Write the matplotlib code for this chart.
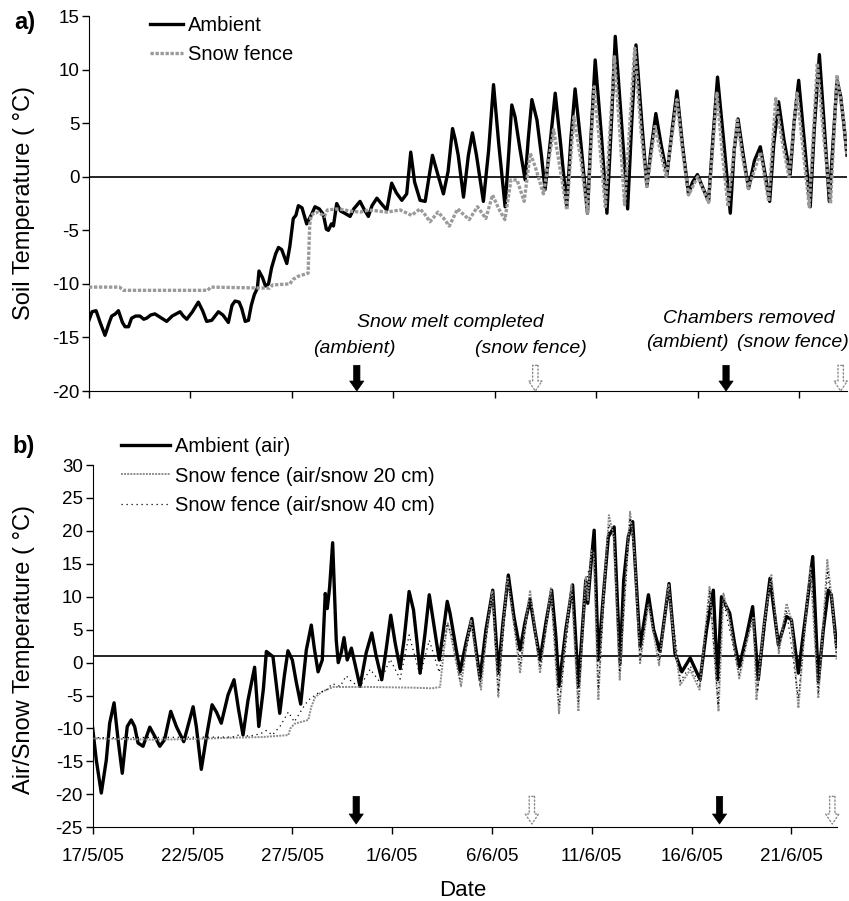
import numpy as np
import matplotlib
matplotlib.use("Agg")
import matplotlib.pyplot as plt
from matplotlib.lines import Line2D

plt.rcParams['font.family'] = ['Liberation Sans', 'DejaVu Sans']
plt.rcParams['axes.unicode_minus'] = False
plt.rcParams['lines.solid_joinstyle'] = 'round'
plt.rcParams['lines.dash_joinstyle'] = 'round'

# time in days since 17/5/05 00:00, temperature in deg C
soil_ambient = np.array([
    (0.00, -13.4), (0.15, -12.6), (0.35, -12.5), (0.55, -13.6), (0.79, -14.8),
    (1.00, -13.6), (1.12, -13.0), (1.30, -12.8), (1.45, -12.5), (1.65, -13.6),
    (1.78, -14.0), (1.95, -14.0), (2.10, -13.2), (2.30, -13.0), (2.51, -13.0),
    (2.70, -13.3), (2.84, -13.2), (3.05, -12.9), (3.25, -12.8), (3.50, -13.1),
    (3.83, -13.5), (4.10, -13.0), (4.49, -12.6), (4.65, -13.0), (4.82, -13.3),
    (5.10, -12.6), (5.39, -11.7), (5.60, -12.5), (5.80, -13.5), (6.05, -13.4),
    (6.38, -12.6), (6.60, -12.9), (6.87, -13.6), (7.05, -12.0), (7.20, -11.6),
    (7.40, -11.7), (7.53, -12.3), (7.70, -13.5), (7.86, -13.4), (8.00, -12.0),
    (8.15, -11.0), (8.30, -10.4), (8.38, -8.8), (8.55, -9.4), (8.70, -10.2),
    (8.85, -10.0), (9.00, -8.5), (9.20, -7.2), (9.34, -6.6), (9.50, -6.8),
    (9.75, -8.1), (9.90, -6.5), (10.07, -3.9), (10.20, -3.6), (10.32, -2.7),
    (10.50, -2.9), (10.73, -4.4), (10.95, -3.6), (11.14, -2.8), (11.35, -3.0),
    (11.55, -3.5), (11.70, -4.9), (11.80, -5.0), (11.95, -4.4), (12.05, -4.6),
    (12.21, -2.5), (12.40, -3.2), (12.60, -3.4), (12.87, -3.7), (13.05, -3.0),
    (13.36, -2.3), (13.55, -3.0), (13.77, -3.7), (13.95, -2.7), (14.19, -2.0),
    (14.45, -2.6), (14.68, -3.1), (14.92, -0.6), (15.15, -1.5), (15.42, -2.2),
    (15.66, -1.6), (15.86, 2.3), (16.05, -0.5), (16.32, -2.2), (16.57, -2.3),
    (16.93, 2.0), (17.15, 0.5), (17.47, -1.6), (17.70, 0.5), (17.92, 4.5),
    (18.05, 3.5), (18.20, 2.0), (18.46, -1.9), (18.70, 2.0), (18.90, 4.1),
    (19.10, 2.0), (19.44, -2.3), (19.70, 2.5), (19.94, 8.6), (20.20, 3.0),
    (20.51, -2.8), (20.70, 2.5), (20.84, 6.7), (21.00, 5.6), (21.25, 2.5),
    (21.50, -0.3), (21.65, 3.5), (21.83, 7.2), (22.08, 5.3), (22.30, 2.0),
    (22.48, -1.2), (22.75, 3.5), (22.98, 7.8), (23.25, 3.0), (23.55, -2.8),
    (23.75, 3.5), (23.96, 8.2), (24.25, 3.0), (24.57, -3.4), (24.75, 4.0),
    (24.95, 10.9), (25.25, 4.0), (25.53, -3.4), (25.75, 5.0), (25.94, 13.1),
    (26.25, 5.0), (26.55, -3.0), (26.75, 5.0), (26.96, 12.3), (27.25, 5.0),
    (27.50, -0.9), (27.70, 2.5), (27.94, 5.9), (28.20, 3.0), (28.49, 0.2),
    (28.75, 4.5), (28.98, 8.0), (29.25, 3.0), (29.55, -1.6), (29.75, -0.5),
    (29.99, 0.2), (30.25, -1.0), (30.54, -2.3), (30.75, 3.5), (30.98, 9.3),
    (31.30, 3.0), (31.61, -3.4), (31.80, 2.5), (31.99, 5.4), (32.25, 2.0),
    (32.51, -1.1), (32.80, 1.5), (33.09, 2.8), (33.30, 0.5), (33.55, -2.3),
    (33.75, 3.0), (33.99, 7.0), (34.25, 3.5), (34.56, 0.2), (34.75, 5.0),
    (34.98, 9.0), (35.25, 3.5), (35.55, -2.8), (35.75, 4.5), (36.00, 11.4),
    (36.25, 4.5), (36.49, -2.3), (36.70, 4.0), (36.87, 9.0), (37.05, 7.5),
    (37.20, 5.0), (37.36, 2.0)])

soil_fence = np.array([
    (0.00, -10.3), (1.50, -10.3), (1.70, -10.6), (5.85, -10.6), (6.00, -10.3),
    (8.90, -10.4), (9.05, -10.1), (9.90, -10.0), (10.05, -9.6), (10.30, -9.3),
    (10.80, -9.0), (10.88, -4.5), (10.95, -3.6), (11.10, -3.4), (11.30, -3.3),
    (11.60, -3.7), (11.75, -3.1), (12.30, -3.0), (12.87, -3.2), (13.36, -3.3),
    (13.80, -3.1), (14.68, -3.3), (15.34, -3.1), (15.90, -3.6), (16.32, -3.0),
    (16.55, -3.5), (16.81, -4.2), (17.20, -3.3), (17.45, -3.8), (17.76, -4.6),
    (18.17, -3.0), (18.45, -3.5), (18.74, -4.0), (19.15, -2.8), (19.56, -3.9),
    (19.89, -1.7), (20.20, -3.0), (20.50, -4.0), (20.80, -0.3), (21.10, -0.3),
    (21.45, -2.3), (21.75, 2.2), (22.00, 0.9), (22.40, -1.6), (22.90, 4.4),
    (23.20, 1.0), (23.55, -3.1), (23.90, 5.6), (24.25, 1.5), (24.57, -3.4),
    (24.90, 8.4), (25.15, 3.5), (25.45, -2.8), (25.90, 11.2), (26.15, 4.5),
    (26.40, -2.6), (26.90, 12.0), (27.20, 4.5), (27.50, -0.9), (27.90, 4.7),
    (28.15, 2.5), (28.45, 0.0), (28.98, 7.2), (29.25, 2.5), (29.55, -1.7),
    (30.00, 0.0), (30.54, -2.4), (30.95, 7.8), (31.20, 2.5), (31.50, -2.8),
    (31.95, 5.3), (32.20, 2.0), (32.50, -1.1), (33.10, 2.3), (33.50, -2.3),
    (33.85, 7.3), (34.15, 3.5), (34.50, 0.0), (34.90, 7.8), (35.20, 2.5),
    (35.50, -2.8), (35.90, 10.6), (36.20, 4.0), (36.55, -2.5), (36.87, 9.5),
    (37.20, 5.3), (37.36, 1.9)])

air_ambient = np.array([
    (0.00, -10.0), (0.18, -14.8), (0.43, -19.8), (0.68, -14.8), (0.85, -9.2),
    (1.07, -6.1), (1.27, -11.7), (1.48, -16.8), (1.73, -9.7), (1.93, -8.7),
    (2.10, -9.7), (2.27, -12.2), (2.52, -12.7), (2.86, -9.8), (3.11, -11.2),
    (3.36, -12.7), (3.60, -11.7), (3.91, -7.4), (4.19, -9.7), (4.56, -12.0),
    (5.03, -6.7), (5.19, -9.7), (5.44, -16.2), (5.70, -11.2), (5.98, -6.4),
    (6.20, -7.5), (6.44, -9.2), (6.78, -4.9), (7.08, -2.6), (7.30, -7.0),
    (7.53, -11.0), (7.78, -5.7), (8.11, -0.7), (8.32, -9.7), (8.55, -4.0),
    (8.70, 1.7), (9.03, 0.9), (9.37, -7.7), (9.60, -2.0), (9.78, 1.8),
    (10.00, 0.4), (10.20, -3.0), (10.42, -6.3), (10.70, 1.9), (10.95, 5.7),
    (11.10, 2.2), (11.29, -1.4), (11.50, 0.4), (11.65, 10.5), (11.75, 8.2),
    (11.87, 11.5), (12.02, 18.2), (12.12, 10.0), (12.20, 3.4), (12.30, 0.0),
    (12.45, 1.5), (12.59, 3.8), (12.75, 0.4), (12.96, 2.2), (13.20, -1.0),
    (13.39, -3.6), (13.70, 1.5), (13.98, 4.5), (14.20, 1.0), (14.48, -2.6),
    (14.70, 2.0), (14.93, 7.2), (15.15, 3.0), (15.40, -0.9), (15.60, 3.5),
    (15.85, 10.8), (16.07, 8.0), (16.25, 3.0), (16.40, -1.6), (16.65, 4.5),
    (16.86, 10.3), (17.10, 5.5), (17.36, 0.4), (17.55, 4.5), (17.76, 9.3),
    (17.90, 7.5), (18.15, 3.0), (18.40, -1.4), (18.70, 3.0), (18.99, 6.7),
    (19.20, 2.0), (19.40, -2.4), (19.70, 5.0), (20.04, 11.0), (20.32, -1.6),
    (20.55, 6.0), (20.82, 13.3), (21.10, 7.0), (21.41, 1.9), (21.65, 6.0),
    (21.91, 9.6), (22.15, 5.0), (22.41, 0.4), (22.70, 6.0), (22.99, 11.0),
    (23.20, 4.0), (23.36, -3.6), (23.70, 5.0), (24.04, 11.8), (24.33, -3.6),
    (24.55, 6.0), (24.70, 12.5), (24.80, 9.0), (24.95, 14.5), (25.12, 20.1),
    (25.33, 0.4), (25.55, 9.0), (25.83, 19.1), (26.12, 20.6), (26.42, -0.1),
    (26.60, 12.5), (26.83, 19.1), (27.05, 21.4), (27.42, 2.4), (27.84, 10.3),
    (28.10, 5.0), (28.42, 1.7), (28.87, 12.0), (29.17, 1.4), (29.51, -1.4),
    (29.93, 0.7), (30.43, -2.6), (30.75, 5.0), (31.09, 11.0), (31.30, -2.6),
    (31.50, 10.0), (31.91, 7.5), (32.15, 3.0), (32.39, -0.6), (32.75, 4.0),
    (33.06, 8.5), (33.34, -2.6), (33.65, 6.0), (33.93, 12.8), (34.35, 2.7),
    (34.76, 7.0), (35.00, 6.5), (35.35, -1.6), (35.75, 8.0), (36.07, 16.1),
    (36.35, -2.9), (36.60, 5.0), (36.85, 11.0), (37.00, 10.3), (37.27, 2.4)])

fence_20cm = np.array([
    (0.00, -11.5), (3.00, -11.7), (5.00, -11.6), (7.00, -11.4), (8.50, -11.3),
    (9.80, -11.0), (9.90, -10.0), (10.10, -9.3), (10.80, -8.7), (10.95, -6.7),
    (11.15, -5.2), (11.50, -4.4), (12.04, -3.7), (14.00, -3.7), (16.00, -3.8),
    (17.00, -3.9), (17.40, -3.7), (17.60, 2.0), (17.78, 6.0), (17.95, 4.0),
    (18.15, 1.0), (18.45, -3.6), (18.70, 2.0), (18.95, 6.5), (19.20, 1.0),
    (19.45, -4.1), (19.75, 5.0), (20.02, 10.8), (20.32, -5.2), (20.55, 5.0),
    (20.78, 12.8), (21.05, 7.0), (21.41, -1.6), (21.65, 5.0), (21.91, 11.0),
    (22.15, 5.0), (22.41, -1.6), (22.70, 5.0), (22.95, 11.3), (23.36, -7.7),
    (23.70, 4.0), (23.98, 11.8), (24.33, -7.4), (24.55, 5.0), (24.70, 13.0),
    (24.80, 9.5), (24.98, 17.0), (25.10, 16.6), (25.33, -5.7), (25.55, 8.0),
    (25.86, 22.4), (26.10, 19.1), (26.40, -2.6), (26.65, 10.0), (26.92, 22.9),
    (27.15, 16.1), (27.42, -0.1), (27.84, 9.0), (28.37, -0.4), (28.85, 11.8),
    (29.10, 4.0), (29.43, -3.4), (29.93, -1.1), (30.40, -4.1), (30.90, 11.5),
    (31.35, -7.4), (31.60, 10.5), (31.90, 6.5), (32.39, -2.4), (32.75, 3.0),
    (33.10, 7.0), (33.25, -5.7), (33.60, 5.0), (34.00, 13.3), (34.37, 1.4),
    (34.76, 9.0), (35.00, 6.5), (35.35, -6.9), (35.70, 6.0), (35.95, 14.6),
    (36.35, -5.4), (36.60, 6.0), (36.80, 15.6), (37.05, 9.0), (37.27, 0.4)])

fence_40cm = np.array([
    (0.00, -11.4), (7.00, -11.3), (7.50, -10.8), (7.80, -11.2), (8.40, -10.8),
    (8.70, -10.3), (9.00, -11.0), (9.40, -9.6), (9.80, -7.5), (10.10, -9.0),
    (10.50, -7.0), (10.80, -5.7), (11.30, -4.6), (11.70, -4.2), (12.00, -3.2),
    (12.40, -3.6), (12.70, -2.0), (13.00, -3.0), (13.40, -3.6), (13.90, -1.0),
    (14.40, -3.0), (14.90, 0.5), (15.40, -2.5), (15.85, 4.2), (16.40, -2.0),
    (16.86, 3.4), (17.36, -1.5), (17.76, 6.0), (17.95, 4.5), (18.40, -2.5),
    (18.99, 6.0), (19.40, -3.5), (20.02, 10.5), (20.32, -4.5), (20.80, 12.5),
    (21.41, -0.5), (21.91, 10.0), (22.41, -0.8), (22.97, 10.5), (23.36, -6.5),
    (24.02, 11.0), (24.33, -6.0), (24.70, 12.0), (25.00, 16.0), (25.12, 18.0),
    (25.33, -4.0), (25.86, 21.0), (26.12, 19.0), (26.40, -1.5), (26.92, 22.0),
    (27.15, 16.0), (27.42, 0.5), (27.84, 9.5), (28.40, 0.3), (28.86, 11.5),
    (29.45, -2.8), (29.93, -0.5), (30.42, -3.5), (30.92, 11.0), (31.33, -6.5),
    (31.55, 10.0), (32.39, -1.8), (33.08, 7.5), (33.30, -4.5), (33.98, 13.0),
    (34.37, 2.0), (34.76, 8.0), (35.35, -5.5), (35.98, 15.0), (36.35, -4.5),
    (36.82, 14.0), (37.27, 1.0)])

# snowmelt completed (ambient, snow fence), chambers removed (ambient, snow fence)
event_days = [13.2, 22.0, 31.4, 37.05]
event_black = [True, False, True, False]

tick_days = [0, 5, 10, 15, 20, 25, 30, 35]
tick_labels = ['17/5/05', '22/5/05', '27/5/05', '1/6/05', '6/6/05',
               '11/6/05', '16/6/05', '21/6/05']

GRAY = '#9a9a9a'


def style_axis(ax):
    ax.spines['top'].set_visible(False)
    ax.spines['right'].set_visible(False)
    ax.tick_params(direction='out', length=5, width=1, labelsize=13.5, pad=2)
    ax.set_xticks(tick_days)


def draw_arrows(ax, y_top, y_tip):
    for d, black in zip(event_days, event_black):
        if black:
            props = dict(arrowstyle='simple,head_length=0.6,head_width=0.85,tail_width=0.38',
                         fc='black', ec='black', lw=0.5, mutation_scale=12,
                         shrinkA=0, shrinkB=0)
        else:
            props = dict(arrowstyle='simple,head_length=0.6,head_width=0.8,tail_width=0.32',
                         fc='white', ec='#8a8a8a', lw=1.0, ls=':', mutation_scale=12,
                         shrinkA=0, shrinkB=0)
        ax.annotate('', xy=(d, y_tip), xytext=(d, y_top), arrowprops=props,
                    annotation_clip=False)


fig = plt.figure(figsize=(8.49, 9.01), dpi=100)

# ---- panel a: soil temperature
ax1 = fig.add_axes([0.1048, 0.566, 0.8928, 0.4162])
ax1.axhline(0, color='black', lw=1.2, zorder=1)
ax1.plot(soil_ambient[:, 0], soil_ambient[:, 1], color='black', lw=2.4, zorder=2)
ax1.plot(soil_fence[:, 0], soil_fence[:, 1], color=GRAY, lw=2.4,
         ls=(0, (1, 0.5)), zorder=3)
ax1.set_xlim(0, 37.36)
ax1.set_ylim(-20, 15)
ax1.set_yticks(np.arange(-20, 16, 5))
style_axis(ax1)
ax1.set_xticklabels([])

txt = dict(ha='center', va='center', fontsize=14, style='italic')
ax1.text(17.8, -13.6, 'Snow melt completed', **txt)
ax1.text(13.1, -16.0, '(ambient)', **txt)
ax1.text(21.8, -16.0, '(snow fence)', **txt)
ax1.text(32.5, -13.2, 'Chambers removed', **txt)
ax1.text(29.5, -15.5, '(ambient)', **txt)
ax1.text(34.7, -15.5, '(snow fence)', **txt)
draw_arrows(ax1, -17.6, -20.0)

h_a = [Line2D([], [], color='black', lw=2.4),
       Line2D([], [], color=GRAY, lw=2.4, ls=(0, (1, 0.5)))]
ax1.legend(h_a, ['Ambient', 'Snow fence'], loc='upper left',
           bbox_to_anchor=(0.1767, 0.9823), bbox_transform=fig.transFigure,
           frameon=False, borderpad=0, borderaxespad=0, fontsize=14.5,
           handlelength=1.65, handletextpad=0.25, labelspacing=0.5)

# ---- panel b: air / snow temperature
ax2 = fig.add_axes([0.1092, 0.0818, 0.8763, 0.4021])
ax2.axhline(1, color='black', lw=1.2, zorder=1)
ax2.plot(air_ambient[:, 0], air_ambient[:, 1], color='black', lw=2.4, zorder=2)
ax2.plot(fence_20cm[:, 0], fence_20cm[:, 1], color='#8c8c8c', lw=1.4,
         ls=(0, (1, 0.6)), zorder=3)
ax2.plot(fence_40cm[:, 0], fence_40cm[:, 1], color='black', lw=0.9,
         ls=(0, (1, 3)), zorder=4)
ax2.set_xlim(0, 37.27)
ax2.set_ylim(-25, 30)
ax2.set_yticks(np.arange(-25, 31, 5))
style_axis(ax2)
ax2.set_xticklabels(tick_labels)
ax2.tick_params(axis='x', pad=10)
draw_arrows(ax2, -20.3, -24.5)

h_b = [Line2D([], [], color='black', lw=2.4),
       Line2D([], [], color='#8c8c8c', lw=1.4, ls=(0, (1, 0.6))),
       Line2D([], [], color='black', lw=0.9, ls=(0, (1, 3)))]
ax2.legend(h_b, ['Ambient (air)', 'Snow fence (air/snow 20 cm)',
                 'Snow fence (air/snow 40 cm)'], loc='upper left',
           bbox_to_anchor=(0.1425, 0.5145), bbox_transform=fig.transFigure,
           frameon=False, borderpad=0, borderaxespad=0, fontsize=14.5,
           handlelength=2.45, handletextpad=0.25, labelspacing=0.5)

# ---- labels
fig.text(24 / 849, 1 - 203 / 901, 'Soil Temperature ( °C)', rotation=90,
         ha='center', va='center', fontsize=17)
fig.text(24 / 849, 1 - 650 / 901, 'Air/Snow Temperature ( °C)', rotation=90,
         ha='center', va='center', fontsize=17)
fig.text(463 / 849, 1 - 890 / 901, 'Date', ha='center', va='center', fontsize=16)
fig.text(14 / 849, 1 - 23 / 901, 'a)', ha='left', va='center', fontsize=17,
         fontweight='bold')
fig.text(12 / 849, 1 - 447 / 901, 'b)', ha='left', va='center', fontsize=17,
         fontweight='bold')

fig.savefig('out.png', dpi=100)
